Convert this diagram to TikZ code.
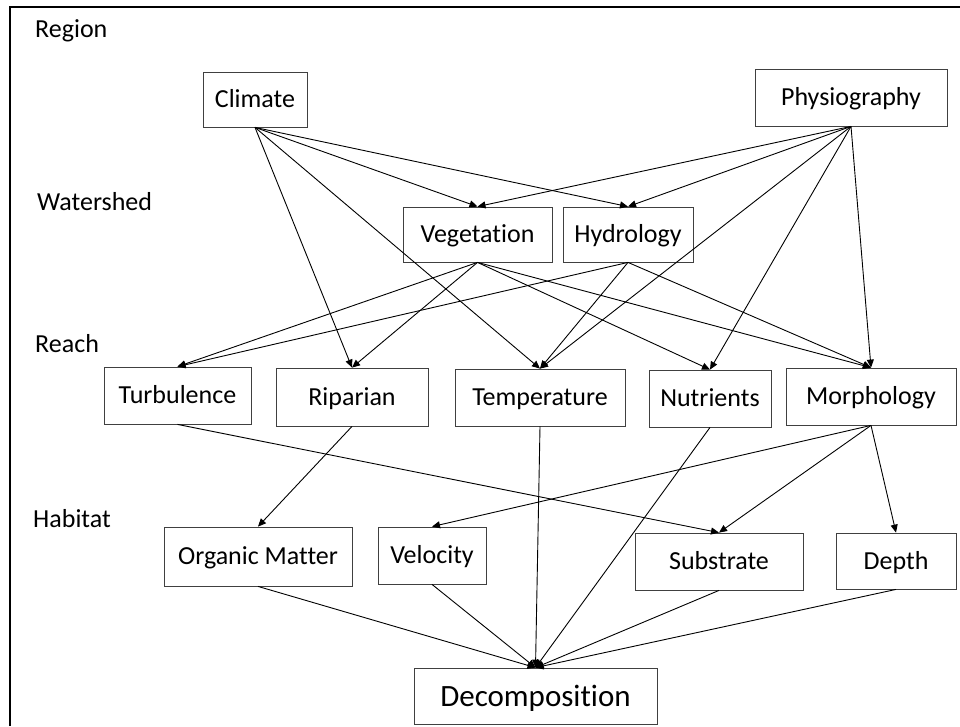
\documentclass[tikz,border=0pt]{standalone}
\usepackage{fontspec}
\setmainfont{Carlito}[Ligatures={NoCommon}]
\usepackage{tikz}
\usetikzlibrary{arrows.meta}

\begin{document}
\begin{tikzpicture}[x=1pt, y=-1pt,
  box/.style={draw=black!75, line width=0.8pt, inner sep=0pt,
              font=\fontsize{26}{30}\selectfont, text height=21pt, text depth=4.5pt},
  bigbox/.style={box, font=\fontsize{31}{36}\selectfont, text height=25pt, text depth=5pt},
  lvl/.style={anchor=base west, inner sep=0pt, font=\fontsize{26}{30}\selectfont},
  arr/.style={-{Triangle[length=8pt, width=7pt]}, line width=0.9pt}]
\useasboundingbox (0,0) rectangle (960,726);
\draw[line width=1.3pt] (10,726) -- (10,7) -- (960,7);
% levels
\node[lvl] (region) at (35,37) {Region};
\node[lvl] (watershed) at (37,210.5) {Watershed};
\node[lvl] (reach) at (35,352) {Reach};
\node[lvl] (habitat) at (33,527) {Habitat};
% region
\node[box, minimum width=104pt, minimum height=55pt] (climate) at (255,99.5) {Climate};
\node[box, minimum width=192pt, minimum height=57pt] (physio) at (851,97.5) {Physiography};
% watershed
\node[box, minimum width=149pt, minimum height=55pt] (veg) at (477.5,234.5) {Vegetation};
\node[box, minimum width=130pt, minimum height=55pt] (hydro) at (628,234.5) {Hydrology};
% reach
\node[box, minimum width=147pt, minimum height=57pt] (turb) at (177.5,395.5) {Turbulence};
\node[box, minimum width=152pt, minimum height=58pt] (ripar) at (352,397) {Riparian};
\node[box, minimum width=170pt, minimum height=57pt] (temp) at (540,397.5) {Temperature};
\node[box, minimum width=122pt, minimum height=57pt] (nutr) at (710,398.5) {Nutrients};
\node[box, minimum width=170pt, minimum height=57pt] (morph) at (871,396.5) {Morphology};
% habitat
\node[box, minimum width=188pt, minimum height=59pt] (orgm) at (258,556.5) {Organic Matter};
\node[box, minimum width=108pt, minimum height=57pt] (veloc) at (432,555.5) {Velocity};
\node[box, minimum width=168pt, minimum height=57pt] (subst) at (719,561.5) {Substrate};
\node[box, minimum width=120pt, minimum height=56pt] (depth) at (896,561) {Depth};
\node[bigbox, minimum width=243pt, minimum height=56pt] (decomp) at (535.5,696) {Decomposition};
% region -> watershed, reach
\draw[arr] (climate.south) -- (veg.north);
\draw[arr] (climate.south) -- (hydro.north);
\draw[arr] (climate.south) -- (ripar.north);
\draw[arr] (climate.south) -- (temp.north);
\draw[arr] (physio.south) -- (veg.north);
\draw[arr] (physio.south) -- (hydro.north);
\draw[arr] (physio.south) -- (temp.north);
\draw[arr] (physio.south) -- (nutr.north);
\draw[arr] (physio.south) -- (morph.north);
% watershed -> reach
\draw[arr] (veg.south) -- (turb.north);
\draw[arr] (veg.south) -- (ripar.north);
\draw[arr] (veg.south) -- (nutr.north);
\draw[arr] (veg.south) -- (morph.north);
\draw[arr] (hydro.south) -- (turb.north);
\draw[arr] (hydro.south) -- (temp.north);
\draw[arr] (hydro.south) -- (morph.north);
% reach -> habitat
\draw[arr] (turb.south) -- (subst.north);
\draw[arr] (ripar.south) -- (orgm.north);
\draw[arr] (morph.south) -- (veloc.north);
\draw[arr] (morph.south) -- (subst.north);
\draw[arr] (morph.south) -- (depth.north);
% -> decomposition
\draw[arr] (temp.south) -- (decomp.north);
\draw[arr] (nutr.south) -- (decomp.north);
\draw[arr] (orgm.south) -- (decomp.north);
\draw[arr] (veloc.south) -- (decomp.north);
\draw[arr] (subst.south) -- (decomp.north);
\draw[arr] (depth.south) -- (decomp.north);
\end{tikzpicture}
\end{document}
